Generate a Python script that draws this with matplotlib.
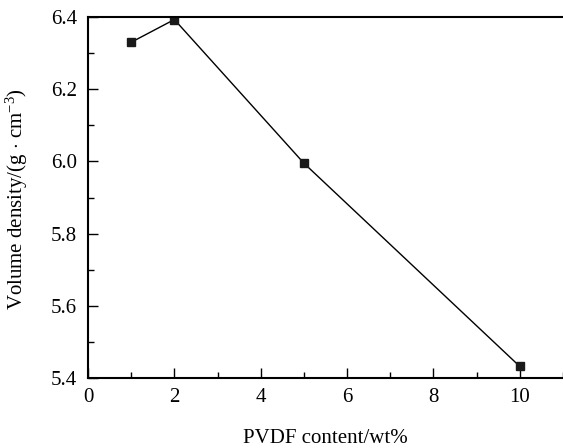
import matplotlib
matplotlib.use('Agg')
import matplotlib.pyplot as plt
from matplotlib.ticker import MultipleLocator

plt.rcParams['font.family'] = ['Liberation Serif', 'DejaVu Serif']
plt.rcParams['mathtext.fontset'] = 'custom'
plt.rcParams['mathtext.rm'] = 'Liberation Serif'
plt.rcParams['mathtext.it'] = 'Liberation Serif:italic'

# data
pvdf_content = [1, 2, 5, 10]
volume_density = [6.33, 6.393, 5.995, 5.432]

fig = plt.figure(figsize=(5.63, 4.48), dpi=100)
ax = fig.add_axes([88 / 563, 1 - 378 / 448, 1 - 88 / 563, 361 / 448])

ax.plot(pvdf_content, volume_density, color='black', linewidth=1.0,
        marker='s', markersize=6, markerfacecolor='#1a1a1a', markeredgecolor='#1a1a1a')

ax.set_xlim(0, 11)
ax.set_ylim(5.4, 6.4)
ax.xaxis.set_major_locator(MultipleLocator(2))
ax.xaxis.set_minor_locator(MultipleLocator(1))
ax.yaxis.set_minor_locator(MultipleLocator(0.1))
ax.set_yticks([5.4, 5.6, 5.8, 6.0, 6.2, 6.4])
ax.set_yticklabels(['5.4', '5.6', '5.8', '6.0', '6.2', '6.4'])

ax.tick_params(which='major', direction='in', length=7, width=1.0, labelsize=15)
ax.tick_params(which='minor', direction='in', length=4, width=1.0)
ax.tick_params(axis='x', pad=7)
ax.tick_params(axis='y', pad=8)

for side in ['left', 'bottom', 'top']:
    ax.spines[side].set_linewidth(1.5)
ax.spines['right'].set_visible(False)

ax.set_xlabel('PVDF content/wt%', fontsize=15)
ax.xaxis.set_label_coords(0.5, -0.14)
ax.set_ylabel(r'Volume density/(g $\cdot$ cm$^{-3}$)', fontsize=15)
ax.yaxis.set_label_coords(-0.122, 0.496)

fig.savefig('out.png', dpi=100)
